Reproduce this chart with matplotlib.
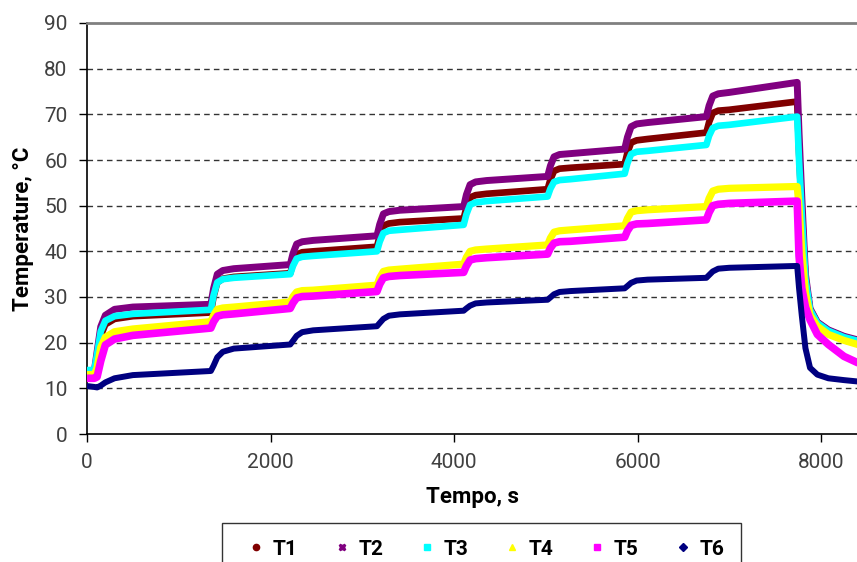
import numpy as np
import matplotlib
matplotlib.use("Agg")
import matplotlib.pyplot as plt
from matplotlib.lines import Line2D

plt.rcParams['font.family'] = ['Roboto', 'DejaVu Sans']

# tempi di lettura (s) - punti chiave
tempo = [0, 80, 110, 150, 200, 300, 500, 1350,
         1380, 1420, 1480, 1600, 2215,
         2245, 2285, 2345, 2465, 3160,
         3190, 3230, 3290, 3410, 4105,
         4135, 4175, 4235, 4355, 5020,
         5050, 5090, 5150, 5270, 5860,
         5890, 5930, 5990, 6110, 6750,
         6780, 6820, 6880, 7000, 7740,
         7760, 7790, 7830, 7880, 7960, 8080, 8250, 8400]

T1 = [13.5, 13.5, 16.5, 21.5, 24.0, 25.2, 25.8, 26.6,
      30.1, 33.2, 34.0, 34.4, 35.2,
      37.4, 39.3, 39.8, 40.0, 41.0,
      43.4, 45.6, 46.1, 46.4, 47.2,
      49.6, 51.8, 52.3, 52.6, 53.6,
      55.7, 57.6, 58.1, 58.3, 59.1,
      61.6, 63.8, 64.3, 64.6, 66.0,
      68.3, 70.3, 70.8, 71.0, 72.8,
      62.0, 49.0, 34.0, 27.3, 24.4, 22.7, 21.3, 20.4]

T2 = [13.8, 13.8, 18.0, 23.5, 26.0, 27.3, 27.8, 28.4,
      31.9, 35.0, 35.8, 36.2, 37.1,
      39.5, 41.6, 42.1, 42.4, 43.4,
      45.9, 48.2, 48.7, 49.0, 49.8,
      52.4, 54.6, 55.2, 55.5, 56.4,
      58.7, 60.7, 61.2, 61.4, 62.4,
      65.0, 67.3, 67.9, 68.2, 69.5,
      71.9, 74.0, 74.5, 74.8, 77.0,
      66.0, 52.0, 35.0, 27.5, 24.5, 22.8, 21.4, 20.6]

T3 = [14.0, 14.0, 17.5, 22.5, 24.8, 25.8, 26.3, 27.2,
      30.4, 33.2, 33.9, 34.2, 35.0,
      36.8, 38.4, 38.8, 39.0, 40.0,
      42.1, 44.0, 44.5, 44.7, 45.8,
      48.1, 50.2, 50.7, 51.0, 52.0,
      53.7, 55.2, 55.6, 55.8, 57.0,
      59.3, 61.3, 61.8, 62.0, 63.3,
      65.3, 67.0, 67.5, 67.7, 69.5,
      60.0, 48.0, 34.0, 27.2, 24.3, 22.6, 21.2, 20.4]

T4 = [13.0, 13.0, 14.5, 19.0, 21.2, 22.4, 23.0, 24.6,
      26.0, 27.3, 27.6, 27.8, 28.9,
      30.1, 31.1, 31.4, 31.5, 32.6,
      34.2, 35.6, 35.9, 36.1, 37.2,
      38.7, 40.0, 40.3, 40.5, 41.4,
      42.9, 44.2, 44.5, 44.7, 45.6,
      47.2, 48.6, 48.9, 49.1, 49.8,
      51.6, 53.2, 53.6, 53.8, 54.2,
      50.0, 40.0, 31.0, 26.0, 23.6, 21.8, 20.5, 19.6]

T5 = [12.2, 12.2, 12.5, 16.0, 19.5, 20.8, 21.6, 23.2,
      24.6, 25.8, 26.1, 26.3, 27.5,
      28.7, 29.8, 30.1, 30.2, 31.2,
      32.8, 34.2, 34.5, 34.7, 35.4,
      36.8, 38.1, 38.4, 38.6, 39.4,
      40.7, 41.8, 42.1, 42.2, 43.1,
      44.5, 45.7, 46.0, 46.1, 46.9,
      48.5, 50.0, 50.3, 50.5, 51.0,
      39.0, 32.0, 27.8, 25.0, 21.8, 19.6, 17.0, 15.6]

T6 = [10.5, 10.3, 10.2, 10.6, 11.3, 12.2, 12.9, 13.8,
      15.0, 16.8, 18.0, 18.7, 19.6,
      20.4, 21.5, 22.3, 22.7, 23.6,
      24.3, 25.2, 25.9, 26.2, 27.0,
      27.5, 28.1, 28.6, 28.8, 29.4,
      29.9, 30.6, 31.1, 31.3, 31.9,
      32.4, 33.1, 33.6, 33.8, 34.2,
      34.8, 35.6, 36.2, 36.4, 36.8,
      32.0, 26.0, 18.8, 14.5, 13.0, 12.2, 11.8, 11.5]

nomi = ['T1', 'T2', 'T3', 'T4', 'T5', 'T6']
serie = [T1, T2, T3, T4, T5, T6]
colori = ['#800000', '#800080', '#00ffff', '#ffff00', '#ff00ff', '#000080']
marker = ['o', 'X', 's', '^', 's', 'D']
spessori = [4.8, 5.0, 4.8, 5.2, 5.5, 4.3]

fig = plt.figure(figsize=(8.57, 5.62), dpi=100)
ax = fig.add_axes([87/857, 1 - 434/562, 1 - 87/857, (434 - 23)/562])

for i in range(6):
    ax.plot(tempo, serie[i], color=colori[i], lw=spessori[i],
            solid_joinstyle='round', solid_capstyle='round', zorder=3 + i)

ax.set_xlim(0, 8392)
ax.set_ylim(0, 90)
ax.set_xticks([0, 2000, 4000, 6000, 8000])
ax.set_yticks(range(0, 91, 10))

for y in range(10, 90, 10):
    ax.axhline(y, color='#333333', lw=1.0, ls=(0, (4, 3)), zorder=1)

ax.spines['top'].set_color('#808080')
ax.spines['top'].set_linewidth(2)
ax.spines['right'].set_visible(False)
ax.spines['left'].set_color('black')
ax.spines['bottom'].set_color('black')
ax.spines['left'].set_linewidth(1.2)
ax.spines['bottom'].set_linewidth(1.2)

ax.tick_params(direction='out', length=6, width=1, colors='black',
               labelcolor='#404040', labelsize=15, pad=8)

ax.set_xlabel('Tempo, s', fontsize=16, fontweight='bold', labelpad=10)
ax.set_ylabel('Temperature, °C', fontsize=16, fontweight='bold', labelpad=7)

maniglie = [Line2D([], [], ls='none', marker=marker[i], color=colori[i],
                   markersize=4.5) for i in range(6)]
leg = fig.legend(maniglie, nomi, loc='upper left', ncol=6,
                 bbox_to_anchor=(222/857, 1 - 523/562),
                 frameon=True, fancybox=False, edgecolor='black',
                 prop={'weight': 'bold', 'size': 15},
                 handlelength=1.7, handletextpad=-0.05, columnspacing=1.25,
                 borderpad=0.8, borderaxespad=0)
leg.get_frame().set_linewidth(1.0)

fig.savefig('out.png', dpi=100)
